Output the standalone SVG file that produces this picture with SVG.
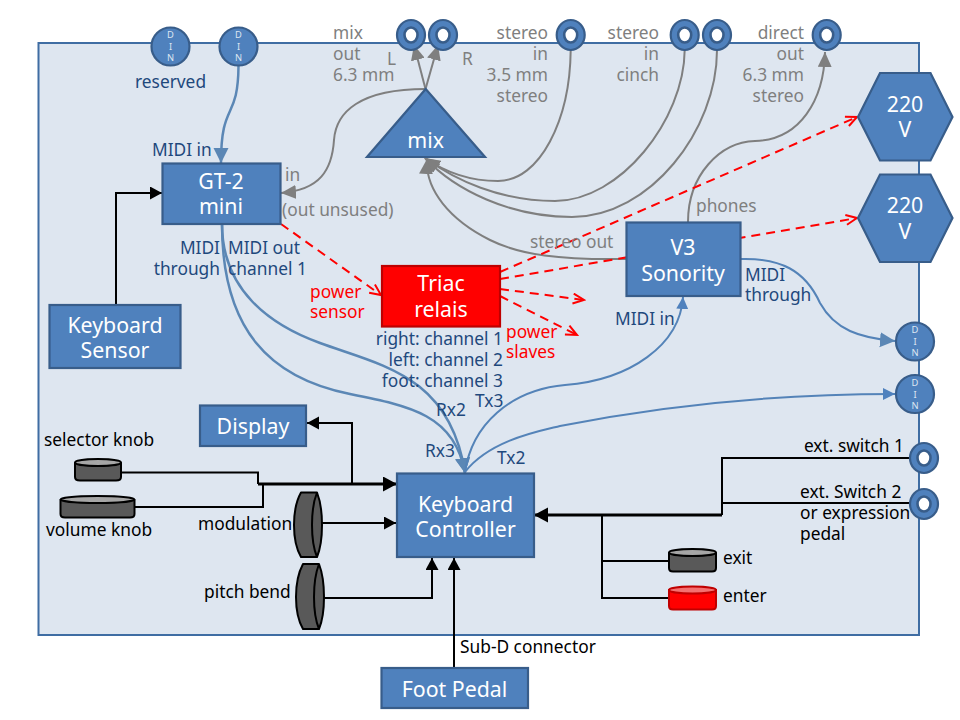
<svg xmlns="http://www.w3.org/2000/svg" width="960" height="720" viewBox="0 0 960 720">
<style>
text{font-family:"Noto Sans","Open Sans",sans-serif;font-size:17.33px}
.n{fill:#4f81bd;stroke:#385d8a;stroke-width:2.2}
.w{fill:#fff;font-size:21.33px;text-anchor:middle}
.d{fill:#dde6f2;font-size:9.33px;text-anchor:middle}
.b{fill:#1f497d}.g{fill:#7f7f7f}.k{fill:#000}.r{fill:#f00}
.e{text-anchor:end}
.jo{fill:#4f81bd;stroke:#385d8a;stroke-width:2.2}
.ji{fill:#fff;stroke:#385d8a;stroke-width:2.6}
.cg{fill:none;stroke:#7f7f7f;stroke-width:2}
.cb{fill:none;stroke:#5483b8;stroke-width:2}
.cbt{fill:none;stroke:#5b87b5;stroke-width:2.5}
.ck{fill:none;stroke:#000;stroke-width:2}
.ckt{fill:none;stroke:#000;stroke-width:3}
.cr{fill:none;stroke:#f00;stroke-width:2;stroke-dasharray:9 6}
.kn{fill:#595959;stroke:#000;stroke-width:2;stroke-linejoin:round}
.kt{fill:#a6a6a6;stroke:#000;stroke-width:2}
</style>
<defs>
<marker id="ag" markerUnits="userSpaceOnUse" markerWidth="16" markerHeight="14" refX="15" refY="7" orient="auto"><path d="M0 0L15 7L0 14z" fill="#7f7f7f"/></marker>
<marker id="ab" markerUnits="userSpaceOnUse" markerWidth="14" markerHeight="14" refX="12" refY="6" orient="auto"><path d="M0 0L12 6L0 12z" fill="#4f81bd"/></marker>
<marker id="abt" markerUnits="userSpaceOnUse" markerWidth="16" markerHeight="16" refX="15" refY="7.500" orient="auto"><path d="M0 0L15 7.500L0 15z" fill="#5b87b5"/></marker>
<marker id="ak" markerUnits="userSpaceOnUse" markerWidth="14" markerHeight="14" refX="12" refY="6.500" orient="auto"><path d="M0 0L12 6.500L0 13z" fill="#000"/></marker>
<marker id="akt" markerUnits="userSpaceOnUse" markerWidth="16" markerHeight="16" refX="14" refY="7.500" orient="auto"><path d="M0 0L14 7.500L0 15z" fill="#000"/></marker>
<marker id="ar" markerUnits="userSpaceOnUse" markerWidth="14" markerHeight="14" refX="12" refY="6" orient="auto"><path d="M1 1L12 6L1 11" fill="none" stroke="#f00" stroke-width="2"/></marker>
</defs>

<rect id="panel" x="38.500" y="43" width="880.500" height="592" fill="#dee6f0" stroke="#3f6da3" stroke-width="2"/>

<g id="connectors">
<path class="cbt" d="M238.500 66C238 122 221 100 221 163" marker-end="url(#abt)"/>
<path class="cg" d="M425.500 89C360 89 336 112 334 140C332 170 320 190 281 193" marker-end="url(#ag)"/>
<path class="cg" d="M425.500 89L414 45" marker-end="url(#ag)"/>
<path class="cg" d="M425.500 89L438 45" marker-end="url(#ag)"/>
<path class="cg" d="M570.700 50C570 120 540 181 498 181C470 181 445 172 425 158" marker-end="url(#ag)"/>
<path class="cg" d="M684.700 50C684 120 620 201 555 201C500 201 455 180 425 158" marker-end="url(#ag)"/>
<path class="cg" d="M717 50C717 130 650 217 572 217C510 217 455 190 425 158" marker-end="url(#ag)"/>
<path class="cg" d="M626 259C560 260 520 255 490 240C450 220 425 190 427 159" marker-end="url(#ag)"/>
<path class="cg" d="M688 222C688 175 720 142 755 141C800 140 824 100 825 52" marker-end="url(#ag)"/>
<path class="cb" d="M741 259C780 258 805 270 820 303C835 330 860 338 895 341" marker-end="url(#abt)"/>
<path class="cbt" d="M222 224C222 290 270 325 320 343C380 365 450 375 465 473" marker-end="url(#abt)"/>
<path class="cbt" d="M222 224C222 330 270 378 350 394C410 406 455 415 465 473" marker-end="url(#abt)"/>
<path class="cb" d="M465 472C472 425 510 390 565 385C630 380 680 345 683 297" marker-end="url(#ab)"/>
<path class="cb" d="M465 472C490 440 540 431 560 426C680 402 800 394 895 394" marker-end="url(#ab)"/>
<path class="cr" d="M281 224L381 295" marker-end="url(#ar)"/>
<path class="cr" d="M500 272L857 117" marker-end="url(#ar)"/>
<path class="cr" d="M500 279L857 218" marker-end="url(#ar)"/>
<path class="cr" d="M500 289L584 300" marker-end="url(#ar)"/>
<path class="cr" d="M500 296L577 335" marker-end="url(#ar)"/>
<path class="ck" d="M116 304V193H162" marker-end="url(#ak)"/>
<path class="ck" d="M121 472.500H258V484"/>
<path class="ck" d="M134 507H263V484"/>
<path class="ckt" d="M258 484H397" marker-end="url(#akt)"/>
<path class="ck" d="M352 484V423H307" marker-end="url(#ak)"/>
<path class="ck" d="M322 523H396" marker-end="url(#ak)"/>
<path class="ck" d="M324 598H432V558" marker-end="url(#ak)"/>
<path class="ck" d="M454 668V558" marker-end="url(#ak)"/>
<path class="ck" d="M910 458H722V515"/>
<path class="ck" d="M910 503H722"/>
<path class="ckt" d="M722 515H534" marker-end="url(#akt)"/>
<path class="ck" d="M602 515V598H669"/>
<path class="ck" d="M602 561H669"/>
</g>

<g id="din-reserved"><circle class="n" cx="170.500" cy="46.500" r="19"/><text class="d" x="170.500" y="38">D</text><text class="d" x="170.500" y="50">I</text><text class="d" x="170.500" y="61">N</text></g>
<g id="din-in"><circle class="n" cx="238.500" cy="46.500" r="19"/><text class="d" x="238.500" y="38">D</text><text class="d" x="238.500" y="50">I</text><text class="d" x="238.500" y="61">N</text></g>
<g id="din-through"><circle class="n" cx="915" cy="341.500" r="19"/><text class="d" x="915" y="333">D</text><text class="d" x="915" y="345">I</text><text class="d" x="915" y="356">N</text></g>
<g id="din-out"><circle class="n" cx="915" cy="394" r="19"/><text class="d" x="915" y="385.500">D</text><text class="d" x="915" y="397.500">I</text><text class="d" x="915" y="408.500">N</text></g>

<g id="jack-l"><ellipse class="jo" cx="411" cy="35" rx="14" ry="15"/><ellipse class="ji" cx="411" cy="35" rx="6.500" ry="7.500"/></g>
<g id="jack-r"><ellipse class="jo" cx="443" cy="35" rx="14" ry="15"/><ellipse class="ji" cx="443" cy="35" rx="6.500" ry="7.500"/></g>
<g id="jack-35"><ellipse class="jo" cx="570.700" cy="35" rx="14" ry="15"/><ellipse class="ji" cx="570.700" cy="35" rx="6.500" ry="7.500"/></g>
<g id="jack-c1"><ellipse class="jo" cx="684.700" cy="35" rx="14" ry="15"/><ellipse class="ji" cx="684.700" cy="35" rx="6.500" ry="7.500"/></g>
<g id="jack-c2"><ellipse class="jo" cx="717" cy="35" rx="14" ry="15"/><ellipse class="ji" cx="717" cy="35" rx="6.500" ry="7.500"/></g>
<g id="jack-direct"><ellipse class="jo" cx="826.700" cy="35" rx="14" ry="15"/><ellipse class="ji" cx="826.700" cy="35" rx="6.500" ry="7.500"/></g>
<g id="jack-ext1"><ellipse class="jo" cx="924" cy="458" rx="14" ry="15"/><ellipse class="ji" cx="924" cy="458" rx="6.500" ry="7.500"/></g>
<g id="jack-ext2"><ellipse class="jo" cx="924" cy="504" rx="14" ry="15"/><ellipse class="ji" cx="924" cy="504" rx="6.500" ry="7.500"/></g>

<g id="mix"><path class="n" d="M425.700 89L485 157H367z"/><text class="w" x="425.700" y="147.500">mix</text></g>
<g id="gt2"><rect class="n" x="162.500" y="163.500" width="118" height="60.500"/><text class="w" x="221" y="189">GT-2</text><text class="w" x="221" y="214">mini</text></g>
<g id="hex1"><path class="n" d="M880 73H930.500L952.500 117L930.500 160.500H880L858 117z"/><text class="w" x="905" y="112">220</text><text class="w" x="905" y="137">V</text></g>
<g id="hex2"><path class="n" d="M880 174.500H930.500L952.500 218L930.500 262H880L858 218z"/><text class="w" x="905" y="213">220</text><text class="w" x="905" y="238.500">V</text></g>
<g id="v3"><rect class="n" x="626.500" y="222.500" width="114" height="73.500"/><text class="w" x="683" y="255">V3</text><text class="w" x="683" y="280.500">Sonority</text></g>
<g id="triac"><rect x="382" y="266" width="118" height="60.500" fill="#f00" stroke="#be0000" stroke-width="2.200"/><text class="w" x="441" y="291">Triac</text><text class="w" x="441" y="316.500">relais</text></g>
<g id="sensor"><rect class="n" x="49.500" y="305" width="131" height="63"/><text class="w" x="115" y="332.500">Keyboard</text><text class="w" x="115" y="357.500">Sensor</text></g>
<g id="display"><rect class="n" x="200" y="405.500" width="106" height="40.500"/><text class="w" x="253" y="433.500">Display</text></g>
<g id="controller"><rect class="n" x="397" y="473.500" width="137" height="83.500"/><text class="w" x="465.500" y="511.500">Keyboard</text><text class="w" x="465.500" y="536.500">Controller</text></g>
<g id="foot"><rect class="n" x="381.500" y="668" width="146.500" height="40"/><text class="w" x="454.500" y="696.500">Foot Pedal</text></g>

<g id="selector-knob"><path class="kn" d="M75 463V477Q75 480.500 80 480.500H116Q121 480.500 121 477V463z"/><ellipse class="kt" cx="98" cy="462.500" rx="23" ry="3.500"/></g>
<g id="volume-knob"><path class="kn" d="M60.500 500V514Q60.500 517.500 65 517.500H130Q134.500 517.500 134.500 514V500z"/><ellipse class="kt" cx="97.500" cy="499.500" rx="37" ry="3.500"/></g>
<g id="exit-knob"><path class="kn" d="M669 553V568Q669 571.500 673 571.500H712Q716 571.500 716 568V553z"/><ellipse class="kt" cx="692.500" cy="552.500" rx="23.500" ry="3.500"/></g>
<g id="enter-knob"><path d="M669 590V606Q669 609.500 673 609.500H712Q716 609.500 716 606V590z" fill="#f00" stroke="#c00000" stroke-width="2"/><ellipse cx="692.500" cy="590" rx="23.500" ry="3.500" fill="#f47070" stroke="#c00000" stroke-width="2"/></g>
<g id="mod-wheel"><path class="kn" d="M301 492.500H317Q322 505 322 525Q322 545 317 557H301Q294 545 294 525Q294 505 301 492.500z"/><path d="M317 492.500Q312 505 312 525Q312 545 317 557" fill="none" stroke="#000" stroke-width="2"/></g>
<g id="pitch-wheel"><path class="kn" d="M303 564H319Q324 577 324 597Q324 617 319 629H303Q296 617 296 597Q296 577 303 564z"/><path d="M319 564Q314 577 314 597Q314 617 319 629" fill="none" stroke="#000" stroke-width="2"/></g>

<g id="labels" transform="translate(0 .5)">
<text class="b" x="135" y="87">reserved</text>
<text class="b" x="152" y="155">MIDI in</text>
<text class="g" x="333" y="38">mix</text><text class="g" x="333" y="59">out</text><text class="g" x="333" y="80">6.3 mm</text>
<text class="g" x="387" y="64">L</text><text class="g" x="462" y="64">R</text>
<text class="g e" x="548" y="38">stereo</text><text class="g e" x="548" y="59">in</text><text class="g e" x="548" y="80">3.5 mm</text><text class="g e" x="548" y="101">stereo</text>
<text class="g e" x="659" y="38">stereo</text><text class="g e" x="659" y="59">in</text><text class="g e" x="659" y="80">cinch</text>
<text class="g e" x="804" y="38">direct</text><text class="g e" x="804" y="59">out</text><text class="g e" x="804" y="80">6.3 mm</text><text class="g e" x="804" y="101">stereo</text>
<text class="g" x="285" y="180">in</text><text class="g" x="282" y="215">(out unsused)</text>
<text class="g" x="696" y="211">phones</text><text class="g" x="530" y="247">stereo out</text>
<text class="b e" x="220" y="253">MIDI</text><text class="b e" x="220" y="274">through</text>
<text class="b" x="228" y="253">MIDI out</text><text class="b" x="228" y="274">channel 1</text>
<text class="r" x="310" y="297">power</text><text class="r" x="310" y="317">sensor</text>
<text class="b e" x="503" y="344">right: channel 1</text><text class="b e" x="503" y="365">left: channel 2</text><text class="b e" x="503" y="386">foot: channel 3</text>
<text class="r" x="506" y="337">power</text><text class="r" x="506" y="357">slaves</text>
<text class="b" x="615" y="324">MIDI in</text>
<text class="b" x="745" y="280">MIDI</text><text class="b" x="745" y="300">through</text>
<text class="b" x="436" y="415">Rx2</text><text class="b" x="475" y="406">Tx3</text>
<text class="b" x="425" y="456">Rx3</text><text class="b" x="497" y="463">Tx2</text>
<text class="k" x="44" y="445">selector knob</text><text class="k" x="46" y="535">volume knob</text>
<text class="k" x="198" y="529">modulation</text><text class="k" x="204" y="597">pitch bend</text>
<text class="k e" x="904" y="451">ext. switch 1</text>
<text class="k" x="800" y="497">ext. Switch 2</text><text class="k" x="800" y="518">or expression</text><text class="k" x="800" y="539">pedal</text>
<text class="k" x="723" y="563">exit</text><text class="k" x="723" y="601">enter</text>
<text class="k" x="460" y="652">Sub-D connector</text>
</g>
</svg>
